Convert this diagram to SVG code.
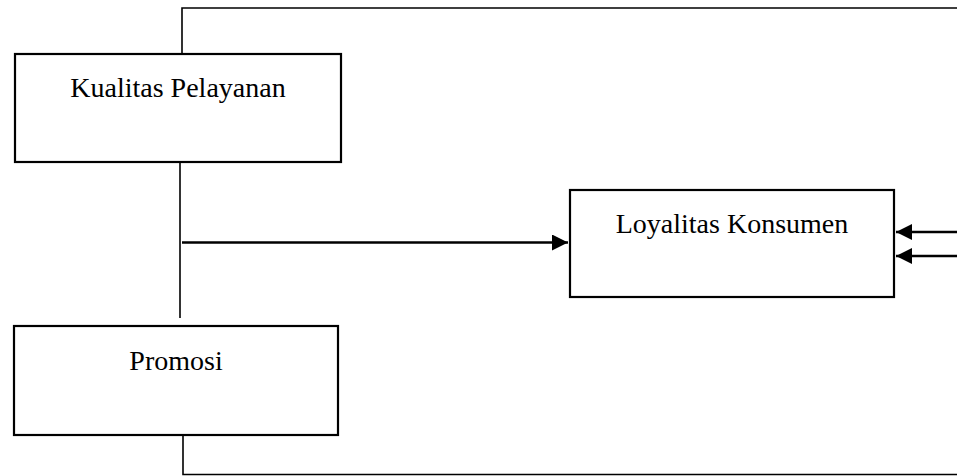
<svg xmlns="http://www.w3.org/2000/svg" width="957" height="476" viewBox="0 0 957 476">
<style>
.box{fill:#fff;stroke:#000;stroke-width:2.2}
.lbl{font-family:"Liberation Serif","Times New Roman",serif;font-size:28px;fill:#000;text-anchor:middle}
.ln{fill:none;stroke:#000;stroke-width:1.6}
.ar{fill:none;stroke:#000;stroke-width:2.4}
</style>
<defs>
<marker id="ah" markerUnits="userSpaceOnUse" markerWidth="17" markerHeight="17" refX="16" refY="8" orient="auto">
<path d="M0,0 L16,8 L0,16 Z" fill="#000"/>
</marker>
</defs>
<rect width="957" height="476" fill="#fff"/>
<g id="connectors">
<path class="ln" d="M182,53 V8 H957"/>
<path class="ln" d="M180,162 V318"/>
<path class="ar" d="M182,242.5 H568" marker-end="url(#ah)"/>
<path class="ar" d="M957,232 H896" marker-end="url(#ah)"/>
<path class="ar" d="M957,256 H896" marker-end="url(#ah)"/>
<path class="ln" d="M183,435 V474.5 H957"/>
</g>
<g id="kualitas">
<rect class="box" x="15" y="54" width="326" height="108"/>
<text class="lbl" x="178" y="97">Kualitas Pelayanan</text>
</g>
<g id="loyalitas">
<rect class="box" x="570" y="190" width="324" height="107"/>
<text class="lbl" x="732" y="233">Loyalitas Konsumen</text>
</g>
<g id="promosi">
<rect class="box" x="14" y="326" width="324" height="109"/>
<text class="lbl" x="176" y="370">Promosi</text>
</g>
</svg>
